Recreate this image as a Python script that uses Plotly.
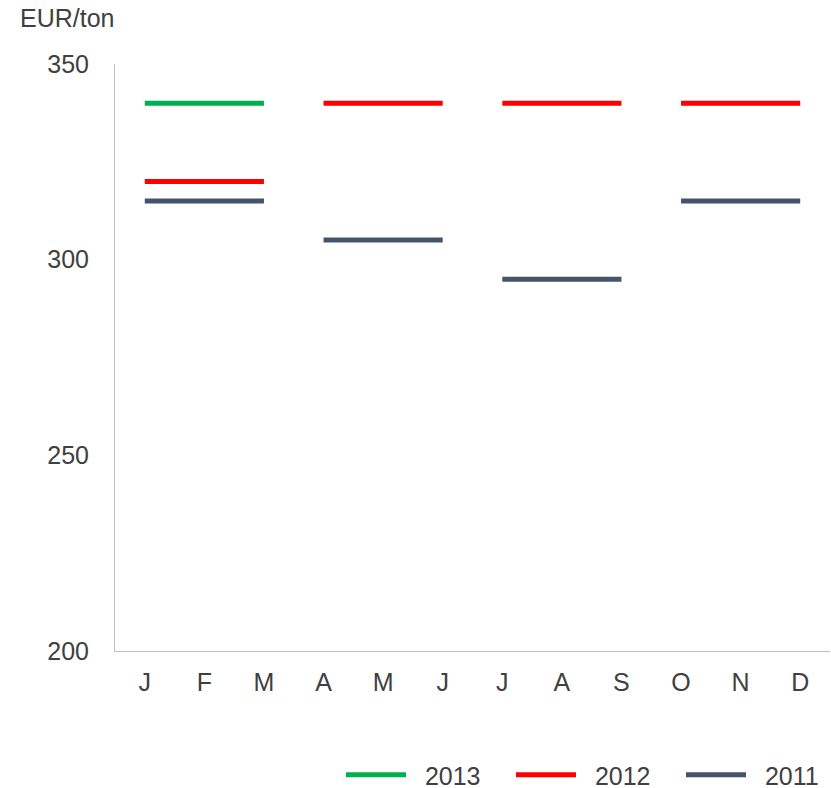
import plotly.graph_objects as go

months = ["J", "F", "M", "A", "M", "J", "J", "A", "S", "O", "N", "D"]
quarter_start = [0, 3, 6, 9]
series_names = ["2013", "2012", "2011"]
values_2013 = [340, None, None, None]
values_2012 = [320, 340, 340, 340]
values_2011 = [315, 305, 295, 315]
colors = {"2013": "#00B050", "2012": "#FF0000", "2011": "#44546A"}

series_values = {"2013": values_2013, "2012": values_2012, "2011": values_2011}

fig = go.Figure()
for name in series_names:
    xs, ys = [], []
    for qs, v in zip(quarter_start, series_values[name]):
        if v is None:
            continue
        xs += [qs, qs + 2, None]
        ys += [v, v, None]
    fig.add_trace(go.Scatter(
        x=xs, y=ys, mode="lines", name="\u00a0\u00a0" + name,
        line=dict(color=colors[name], width=5),
        connectgaps=False, hoverinfo="skip",
    ))

font_color = "#404040"
fig.update_layout(
    width=831, height=788,
    margin=dict(l=115, r=1, t=64, b=137, autoexpand=False),
    paper_bgcolor="white", plot_bgcolor="white",
    font=dict(family="Liberation Sans, Arial, sans-serif", size=25, color=font_color),
    showlegend=True,
    legend=dict(orientation="h", xref="container", x=341 / 831, xanchor="left",
                yref="container", y=1 - 775 / 788, yanchor="middle",
                font=dict(size=25, color=font_color), traceorder="normal",
                itemwidth=60, entrywidth=95, entrywidthmode="pixels"),
    xaxis=dict(
        range=[-0.5, 11.5], tickmode="array",
        tickvals=list(range(12)), ticktext=months,
        showgrid=False, zeroline=False,
        showline=True, linecolor="#BFBFBF", linewidth=1,
        ticks="", ticklabelstandoff=9,
    ),
    yaxis=dict(
        range=[200, 350], tickvals=[200, 250, 300, 350],
        showgrid=False, zeroline=False,
        showline=True, linecolor="#BFBFBF", linewidth=1,
        ticks="", ticklabelstandoff=20,
    ),
    annotations=[dict(
        text="EUR/ton", xref="paper", yref="paper",
        x=-115 / 715, y=1 + 46 / 587, xanchor="left", yanchor="middle",
        showarrow=False, font=dict(size=25, color=font_color), xshift=18,
    )],
)

fig.write_html("out.html")
